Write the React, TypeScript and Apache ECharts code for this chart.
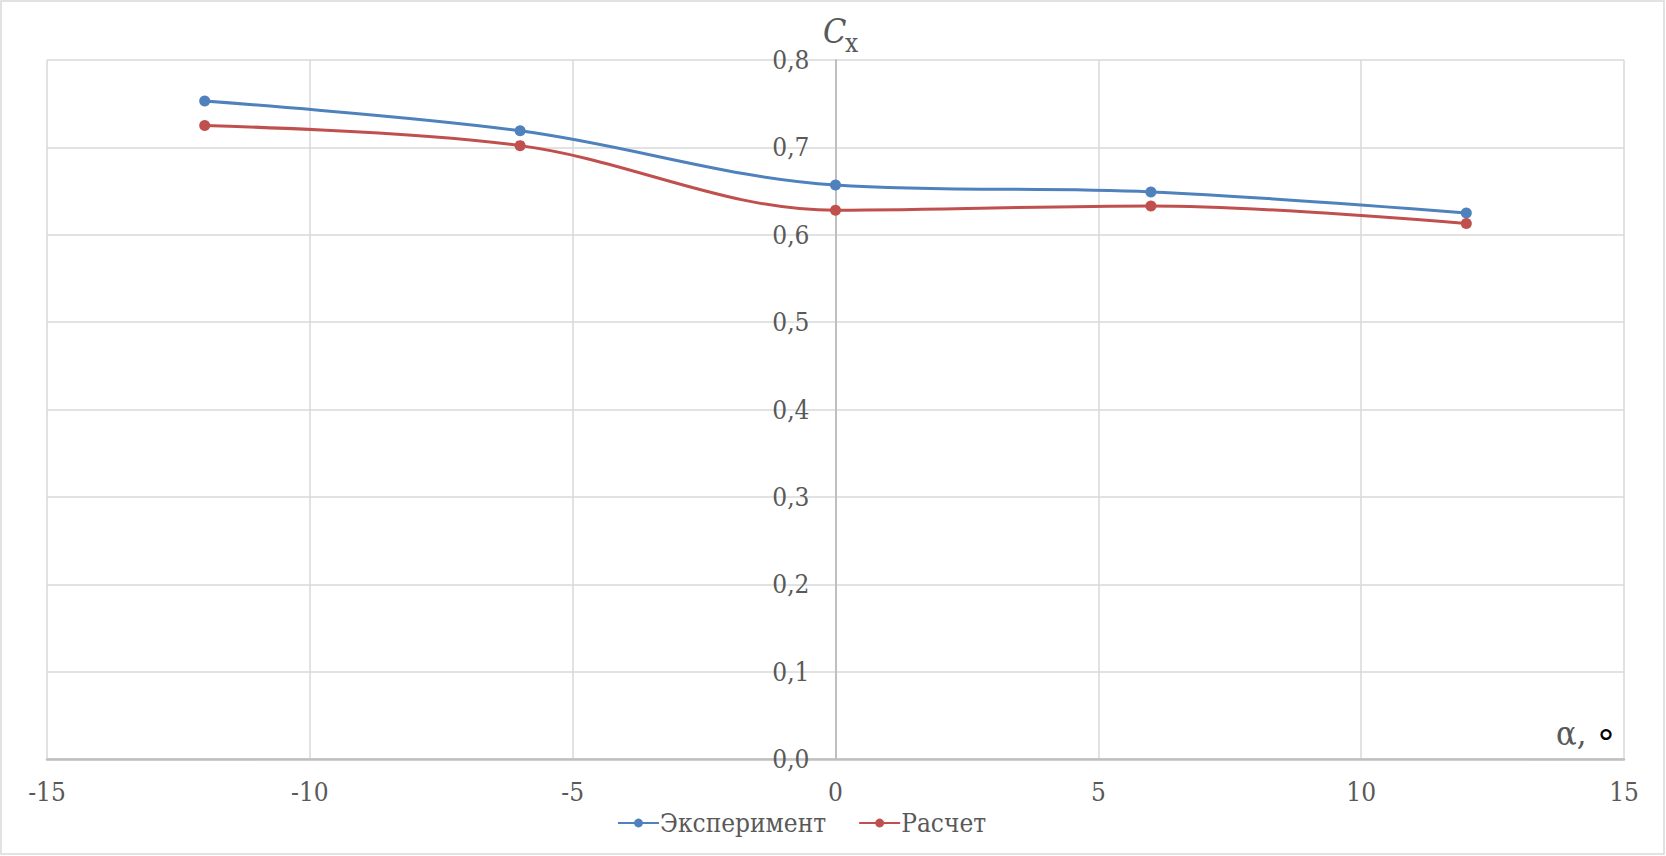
import React, { useEffect, useRef } from "react";
import * as echarts from "echarts";

const alphaValues: number[] = [-12, -6, 0, 6, 12];
const experimentValues: number[] = [0.753, 0.719, 0.657, 0.649, 0.625];
const calculationValues: number[] = [0.725, 0.702, 0.628, 0.633, 0.613];
const seriesNames: string[] = ["Эксперимент", "Расчет"];
const seriesColors: string[] = ["#4F81BD", "#C0504D"];

const FONT = "DejaVu Serif Condensed, DejaVu Serif, serif";
const SANS = "DejaVu Sans, sans-serif";
const TEXT = "#595959";

const CHART_W = 1666;
const CHART_H = 856;
const GRID_LEFT = 47;
const GRID_RIGHT = 42;
const X_MIN = -15;
const X_MAX = 15;

export default function App() {
  const ref = useRef<HTMLDivElement>(null);

  useEffect(() => {
    if (!ref.current) return;
    const chart = echarts.init(ref.current, null, { renderer: "svg" });
    const toPairs = (vals: number[]) => alphaValues.map((a, i) => [a, vals[i]]);
    const mkSeries = (name: string, vals: number[], color: string) => ({
      name,
      type: "line",
      data: toPairs(vals),
      smooth: 0.35,
      symbol: "circle",
      symbolSize: 11,
      showSymbol: true,
      lineStyle: { color, width: 3 },
      itemStyle: { color },
    });
    const plotW = CHART_W - GRID_LEFT - GRID_RIGHT;
    const zeroOffset = -(plotW * (0 - X_MIN)) / (X_MAX - X_MIN);
    chart.setOption({
      animation: false,
      backgroundColor: "#ffffff",
      grid: {
        left: GRID_LEFT,
        right: GRID_RIGHT,
        top: 60,
        bottom: 97,
        containLabel: false,
        outerBoundsMode: "none",
      },
      xAxis: {
        type: "value",
        min: X_MIN,
        max: X_MAX,
        interval: 5,
        axisLine: { show: true, onZero: false, lineStyle: { color: "#bfbfbf", width: 2.5 } },
        axisTick: { show: false },
        splitLine: { show: true, lineStyle: { color: "#d9d9d9", width: 1.5 } },
        axisLabel: { color: TEXT, fontFamily: FONT, fontSize: 26, margin: 20 },
      },
      yAxis: {
        type: "value",
        min: 0,
        max: 0.8,
        interval: 0.1,
        offset: zeroOffset,
        axisLine: { show: true, onZero: false, lineStyle: { color: "#bfbfbf", width: 2 } },
        axisTick: { show: false },
        splitLine: { show: true, lineStyle: { color: "#d9d9d9", width: 1.5 } },
        axisLabel: {
          color: TEXT,
          fontFamily: FONT,
          fontSize: 26,
          margin: 26,
          formatter: (v: number) => v.toFixed(1).replace(".", ","),
        },
      },
      legend: {
        data: seriesNames,
        left: 612,
        top: 805,
        itemWidth: 41,
        itemHeight: 11,
        itemGap: 32,
        textStyle: { color: TEXT, fontFamily: FONT, fontSize: 26, padding: [0, 0, 0, -4] },
      },
      graphic: [
        {
          type: "rect",
          silent: true,
          shape: { x: 1, y: 1, width: 1663, height: 853 },
          style: { fill: "none", stroke: "#d9d9d9", lineWidth: 1.5 },
        },
        {
          type: "text",
          x: 823,
          y: 31,
          style: { text: "C", fontFamily: FONT, fontStyle: "italic", fontSize: 34, fill: TEXT, verticalAlign: "middle" },
        },
        {
          type: "text",
          x: 845,
          y: 43,
          style: { text: "x", fontFamily: FONT, fontSize: 26, fill: TEXT, verticalAlign: "middle" },
        },
        {
          type: "text",
          x: 1556,
          y: 733,
          style: { text: "α,", fontFamily: FONT, fontSize: 34, fill: TEXT, verticalAlign: "middle" },
        },
        {
          type: "text",
          x: 1597,
          y: 742,
          style: { text: "°", fontFamily: SANS, fontSize: 36, fill: "#000000", verticalAlign: "middle" },
        },
      ],
      series: [
        mkSeries(seriesNames[0], experimentValues, seriesColors[0]),
        mkSeries(seriesNames[1], calculationValues, seriesColors[1]),
      ],
    });
    return () => chart.dispose();
  }, []);

  return (
    <div
      ref={ref}
      style={{ position: "absolute", left: 0, top: 0, width: CHART_W, height: CHART_H, background: "#fff" }}
    />
  );
}
